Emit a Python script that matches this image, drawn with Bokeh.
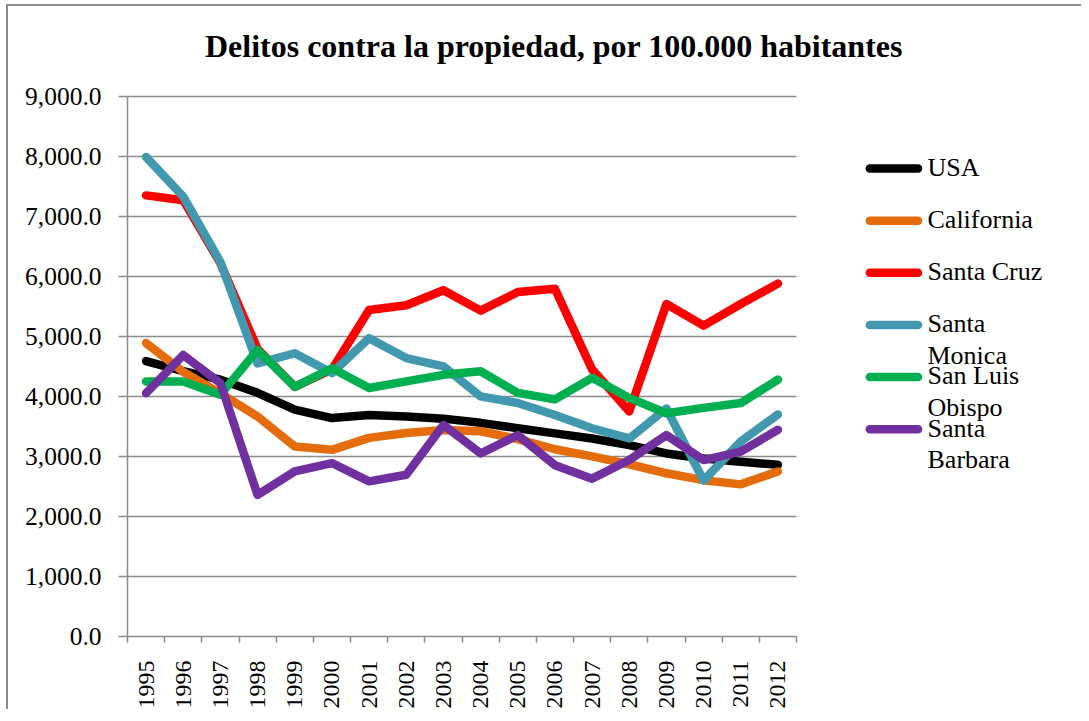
import math
from bokeh.plotting import figure
from bokeh.models import Range1d, FixedTicker, NumeralTickFormatter, BoxAnnotation
from bokeh.core.properties import value
from bokeh.embed import file_html
from bokeh.resources import INLINE

# ---------------- data ----------------
years = list(range(1995, 2013))
year_labels = [str(y) for y in years]

usa = [4590, 4420, 4280, 4060, 3780, 3640, 3690, 3665, 3630, 3560, 3470, 3385,
       3300, 3190, 3050, 2965, 2910, 2860]
california = [4890, 4410, 4050, 3665, 3165, 3110, 3310, 3390, 3440, 3420, 3290,
              3120, 3000, 2870, 2720, 2605, 2535, 2750]
santa_cruz = [7350, 7270, 6220, 4790, 4160, 4450, 5440, 5520, 5770, 5430, 5740,
              5795, 4450, 3750, 5540, 5180, 5540, 5880]
santa_monica = [7990, 7330, 6240, 4550, 4720, 4390, 4970, 4640, 4500, 4000, 3890,
                3690, 3470, 3300, 3800, 2600, 3250, 3700]
san_luis_obispo = [4250, 4250, 4030, 4775, 4160, 4470, 4140, 4250, 4360, 4420,
                   4060, 3950, 4310, 3975, 3720, 3810, 3890, 4280]
santa_barbara = [4055, 4690, 4220, 2360, 2750, 2890, 2585, 2695, 3525, 3050, 3355,
                 2855, 2630, 2940, 3355, 2940, 3080, 3445]

series = [usa, california, santa_cruz, santa_monica, san_luis_obispo, santa_barbara]
series_names = ["USA", "California", "Santa Cruz", "Santa Monica",
                "San Luis Obispo", "Santa Barbara"]
legend_lines = [["USA"], ["California"], ["Santa Cruz"], ["Santa", "Monica"],
                ["San Luis", "Obispo"], ["Santa", "Barbara"]]
colors = ["#000000", "#E46C0A", "#FF0000", "#4198AF", "#00B050", "#7030A0"]

y_ticks = list(range(0, 9001, 1000))
title_text = "Delitos contra la propiedad, por 100.000 habitantes"

FONT = "Liberation Serif"
GRAY = "#8c8c8c"

# ---------------- layout (page pixels) ----------------
OX, OY = 8, 6                      # canvas origin on the page (margin + border)
CANVAS_W, CANVAS_H = 1075, 705
PLOT_L, PLOT_R, PLOT_T, PLOT_B = 127, 796, 96, 637   # the chart's axes box
FRAME_R = OX + CANVAS_W            # frame reaches the canvas right edge
FRAME_T = OY                       # and the canvas top edge
TEXT_SHIFT = -9.5                  # svg baseline correction
px_per_cat = (PLOT_R - PLOT_L) / len(years)
px_per_unit = (PLOT_B - PLOT_T) / y_ticks[-1]
x0_range = years[0] - 0.5


def dx(px):
    return x0_range + (px - PLOT_L) / px_per_cat


def dy(py):
    return (PLOT_B - py) / px_per_unit


p = figure(width=CANVAS_W, height=CANVAS_H, output_backend="svg",
           toolbar_location=None, title=None,
           x_range=Range1d(x0_range, dx(FRAME_R)),
           y_range=Range1d(0, dy(FRAME_T)),
           min_border_left=PLOT_L - OX, min_border_top=0, min_border_right=0,
           min_border_bottom=OY + CANVAS_H - PLOT_B)
p.styles = {"margin-left": "6px", "margin-top": "4px",
            "border-left": "2px solid #8c8c8c", "border-top": "2px solid #8c8c8c"}
p.outline_line_color = None
p.background_fill_color = "white"
p.border_fill_color = "white"

# grid, trimmed to the axes box by a white underlay
p.xgrid.visible = False
p.ygrid.grid_line_color = GRAY
p.ygrid.grid_line_width = 1.5
p.ygrid.level = "image"
p.add_layout(BoxAnnotation(left=years[-1] + 0.5, fill_color="white", fill_alpha=1,
                           line_alpha=0, level="underlay"))

renderers = []
for vals, col in zip(series, colors):
    r = p.line(years, vals, line_color=col, line_width=8.5,
               line_cap="round", line_join="round")
    renderers.append(r)

# x axis
xa = p.xaxis[0]
xa.bounds = (years[0] - 0.5, years[-1] + 0.5)
xa.ticker = FixedTicker(ticks=years, minor_ticks=[y - 0.5 for y in years] + [years[-1] + 0.5])
xa.major_label_overrides = {y: s for y, s in zip(years, year_labels)}
xa.major_label_orientation = math.pi / 2
xa.major_tick_out = 0
xa.major_tick_in = 0
xa.minor_tick_out = 6
xa.minor_tick_in = 0
xa.minor_tick_line_color = GRAY
xa.minor_tick_line_width = 1.5
xa.axis_line_color = GRAY
xa.axis_line_width = 1.5
xa.major_label_standoff = 18
xa.major_label_text_font = FONT
xa.major_label_text_font_size = "24px"
xa.major_label_text_color = "black"

# y axis
ya = p.yaxis[0]
ya.bounds = (0, y_ticks[-1])
ya.ticker = FixedTicker(ticks=y_ticks)
ya.formatter = NumeralTickFormatter(format="0,0.0")
ya.major_tick_out = 9
ya.major_tick_in = 0
ya.minor_tick_out = 0
ya.minor_tick_in = 0
ya.major_tick_line_color = GRAY
ya.major_tick_line_width = 1.5
ya.axis_line_color = GRAY
ya.axis_line_width = 1.5
ya.major_label_standoff = 17
ya.major_label_text_font = FONT
ya.major_label_text_font_size = "25.5px"
ya.major_label_text_color = "black"

# title
p.text(x=[dx(553.5)], y=[dy(55 + TEXT_SHIFT)], text=[title_text], text_align="center",
       text_baseline="alphabetic", text_font=value(FONT), text_font_style="bold",
       text_font_size=value("32px"), text_color="black")

# legend
LEG_Y0, LEG_STEP = 168.3, 52.2          # swatch centres
SW_X0, SW_X1, TXT_X = 869.3, 917.5, 927
LINE_GAP, BASE_OFF = 31.5, 8.4
sw_y = [dy(LEG_Y0 + i * LEG_STEP) for i in range(len(series))]
p.segment(x0=[dx(SW_X0)] * len(series), x1=[dx(SW_X1)] * len(series),
          y0=sw_y, y1=sw_y, line_color=colors, line_width=8.5, line_cap="round")
tx, ty, tt = [], [], []
for i, lines in enumerate(legend_lines):
    for j, txt in enumerate(lines):
        tx.append(dx(TXT_X))
        ty.append(dy(LEG_Y0 + i * LEG_STEP + BASE_OFF + j * LINE_GAP + TEXT_SHIFT))
        tt.append(txt)
p.text(x=tx, y=ty, text=tt, text_align="left", text_baseline="alphabetic",
       text_font=value(FONT), text_font_size=value("26px"), text_color="black")

open("out.html", "w").write(file_html(p, INLINE))
